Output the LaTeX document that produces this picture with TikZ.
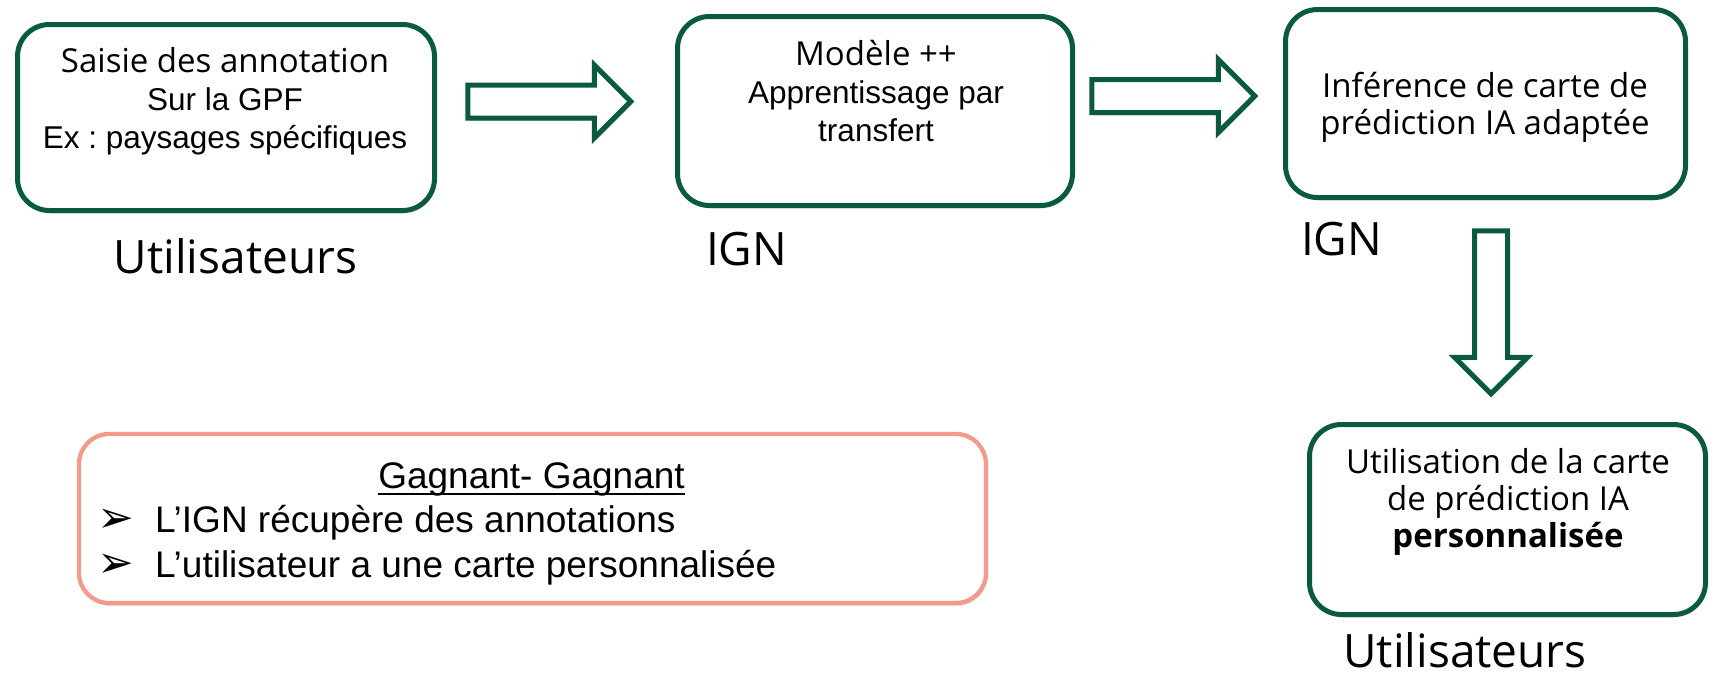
\documentclass[tikz,border=0pt]{standalone}
\usepackage{fontspec}
\setmainfont{Liberation Sans}
\newfontfamily\marfont{Open Sans}
\newfontfamily\symfont{DejaVu Sans}
\usetikzlibrary{shapes.arrows,shadows,positioning}
\frenchspacing

\definecolor{ignvert}{HTML}{0A5A41}
\definecolor{saumon}{HTML}{F29B8C}

\newcommand\puce{\makebox[58pt][l]{\symfont\fontsize{44}{30}\selectfont ➢}}

\tikzset{
  ombre/.style={drop shadow={shadow xshift=1.5pt, shadow yshift=-3pt, opacity=0.25}},
  etape/.style={draw=ignvert, line width=5pt, rounded corners=32pt, fill=white, inner sep=0pt, ombre},
  gain/.style={draw=saumon, line width=4.3pt, rounded corners=30pt, fill=white, inner sep=0pt, ombre},
  fleche/.style={single arrow, draw=ignvert, line width=5pt, fill=white, inner xsep=0pt, inner ysep=14pt,
    minimum height=163pt, single arrow head extend=20pt, single arrow head indent=0pt, ombre},
  txt/.style={inner sep=0pt, align=center, anchor=north, font=\fontsize{31.5}{38}\selectfont},
  acteur/.style={inner sep=0pt, anchor=base, font=\marfont\fontsize{46}{50}\selectfont},
}

\begin{document}
\begin{tikzpicture}[x=1pt, y=-1pt]
  \useasboundingbox (0,0) rectangle (1715,675);

  % boites du haut
  \node[etape, minimum width=417pt, minimum height=186pt] (saisie)    at (226,117.5)  {};
  \node[etape, minimum width=395pt, minimum height=189pt] (modele)    at (875,111)    {};
  \node[etape, minimum width=400pt, minimum height=188pt] (inference) at (1485.5,103.5) {};
  \node[etape, minimum width=396pt, minimum height=190pt] (usage)     at (1507.5,519.5) {};

  % fleches
  \node[fleche] (f1) at (541,101.5) {};
  \node[fleche] (f2) at (1165,96)  {};
  \node[fleche, rotate=-90] (f3) at (1491,304) {};

  % textes des boites
  \node[txt] (saisie-t) at (225,44)
    {\rule{0pt}{28pt}{\marfont\fontsize{33}{38}\selectfont Saisie des annotation}\\Sur la GPF\\Ex : paysages spécifiques};
  \node[txt] (modele-t) at (876,37)
    {\rule{0pt}{28pt}{\marfont\fontsize{33}{38}\selectfont Modèle ++}\\Apprentissage par\\transfert};
  \node[txt, font=\marfont\fontsize{33}{37}\selectfont] (inference-t) at (1485,69)
    {\rule{0pt}{28pt}Inférence de carte de\\prédiction IA adaptée};
  \node[txt, font=\marfont\fontsize{33}{37}\selectfont] (usage-t) at (1508,445)
    {\rule{0pt}{28pt}Utilisation de la carte\\de prédiction IA\\\textbf{personnalisée}};

  % acteurs
  \node[acteur] (u1) at (235.5,273) {Utilisateurs};
  \node[acteur] (ign1) at (746.5,265) {IGN};
  \node[acteur] (ign2) at (1341.5,255) {IGN};
  \node[acteur] (u2) at (1465,667) {Utilisateurs};

  % gagnant-gagnant
  \node[gain, minimum width=907pt, minimum height=169pt] (bilan) at (532.5,518.5) {};
  \node[inner sep=0pt, anchor=base, font=\fontsize{37}{44}\selectfont] (titre) at (531.5,488) {Gagnant- Gagnant};
  \draw[line width=2pt] ([yshift=-6pt]titre.base west) -- ([yshift=-6pt]titre.base east);
  \node[inner sep=0pt, anchor=north west, align=left, font=\fontsize{37}{45}\selectfont] (puces) at (97,502)
    {\rule{0pt}{30pt}\puce L’IGN récupère des annotations\\\puce L’utilisateur a une carte personnalisée};
\end{tikzpicture}
\end{document}
